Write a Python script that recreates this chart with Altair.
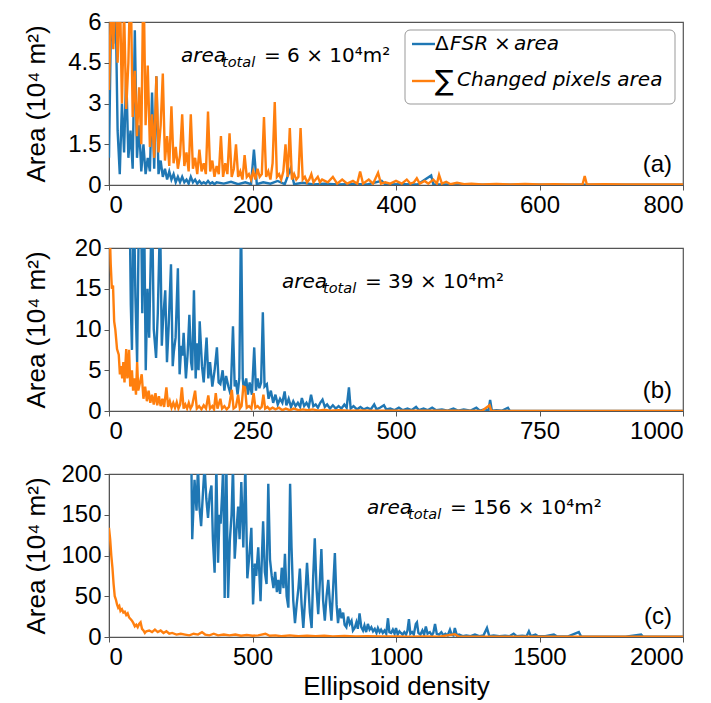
import altair as alt
import pandas as pd

# ---------------- data ----------------
# Panel (a): dense part sampled every 3 density units, then sparse tail
a_orange_dense_x = list(range(0, 300, 3))
a_orange_dense_y = [
    3.5, 7.0, 5.0, 8.0, 4.5, 7.5, 3.0, 6.5, 2.8, 4.5,
    8.0, 2.5, 4.2, 1.8, 3.6, 1.5, 8.0, 2.2, 4.4, 1.4,
    2.6, 1.0, 4.0, 1.2, 2.2, 4.1, 0.9, 1.8, 0.7, 2.9,
    0.8, 1.4, 0.6, 1.1, 2.6, 0.7, 1.2, 0.5, 2.6, 0.6,
    1.0, 0.4, 1.3, 0.5, 0.8, 0.4, 2.7, 0.5, 0.9, 0.3,
    0.7, 0.4, 1.8, 0.3, 0.8, 0.4, 1.9, 0.3, 0.6, 1.5,
    0.3, 0.5, 0.2, 1.1, 0.3, 0.4, 0.2, 0.5, 0.2, 0.6,
    0.3, 0.4, 2.5, 0.3, 0.5, 0.2, 0.8, 3.05, 0.3, 0.4,
    0.2, 0.5, 1.5, 0.3, 2.1, 0.2, 0.4, 0.2, 0.3, 2.1,
    0.2, 0.3, 0.1, 0.2, 0.4, 0.1, 0.2, 0.3, 0.1, 0.2,
]
a_orange_tail = [
    (305, 0.1), (312, 0.3), (318, 0.05), (325, 0.2), (332, 0.05), (340, 0.15),
    (346, 0.05), (350, 0.5), (354, 0.05), (362, 0.2), (368, 0.05), (375, 0.45),
    (379, 0.05), (385, 0.1), (392, 0.05), (400, 0.15), (408, 0.05), (415, 0.2),
    (420, 0.05), (425, 0.1), (429, 0.25), (433, 0.05), (440, 0.15), (445, 0.05),
    (452, 0.2), (457, 0.05), (460, 0.37), (464, 0.05), (470, 0.12), (476, 0.03),
    (485, 0.08), (495, 0.03), (505, 0.05), (520, 0.02), (540, 0.04), (560, 0.02),
    (580, 0.04), (600, 0.02), (620, 0.03), (640, 0.02), (660, 0.02), (663, 0.33),
    (666, 0.02), (690, 0.03), (720, 0.02), (760, 0.02), (800, 0.02),
]
a_blue_dense_x = list(range(0, 153, 3))
a_blue_dense_y = [
    1.0, 6.5, 5.2, 7.0, 2.0, 0.4, 3.0, 1.2, 4.1, 1.0,
    2.0, 0.6, 5.7, 1.0, 2.2, 0.5, 1.5, 0.4, 1.0, 0.5,
    3.4, 0.6, 4.0, 0.4, 0.9, 0.3, 0.6, 0.2, 0.5, 0.2,
    0.4, 0.1, 0.3, 0.1, 0.3, 0.1, 0.2, 0.05, 0.3, 0.1,
    0.2, 0.05, 0.15, 0.05, 0.1, 0.05, 0.15, 0.05, 0.1, 0.03,
    0.1,
]
a_blue_tail = [
    (160, 0.05), (170, 0.12), (180, 0.03), (190, 0.1), (198, 0.03), (202, 1.3),
    (206, 0.03), (215, 0.1), (225, 0.05), (235, 0.15), (245, 0.03), (253, 0.6),
    (258, 0.03), (270, 0.08), (285, 0.02), (300, 0.05), (320, 0.02), (340, 0.04),
    (360, 0.02), (380, 0.15), (385, 0.02), (410, 0.03), (430, 0.02), (449, 0.35),
    (452, 0.02), (480, 0.02), (520, 0.01), (600, 0.01), (700, 0.01), (800, 0.01),
]

# Panel (b)
b_blue = [
    (36, 25), (38, 13), (40, 7.5), (43, 28), (46, 14), (49, 6), (52, 24), (55, 30),
    (58, 12), (61, 26), (64, 5), (67, 15), (70, 9), (73, 20), (75, 26), (78, 10),
    (82, 6.5), (85, 12), (89, 24), (92, 8), (94, 11), (98, 14.8), (101, 6), (104, 10.5),
    (108, 18), (111, 5.5), (113, 7.3), (116, 9), (120, 17.5), (123, 4.5), (126, 8),
    (128, 6.8), (130, 9.6), (134, 4), (137, 7), (140, 11.8), (143, 6), (145, 5),
    (148, 14.8), (151, 4), (153, 8.3), (156, 5), (158, 11), (162, 5.5), (165, 3.5),
    (168, 7), (170, 9), (173, 4), (176, 6), (180, 3), (184, 5), (188, 7.8), (191, 3.5),
    (194, 3.3), (198, 5), (201, 2.5), (204, 4.3), (208, 3), (212, 2), (216, 10.4),
    (219, 3), (221, 3.8), (224, 2), (227, 4), (230, 24), (233, 4), (235, 2.5), (239, 4),
    (242, 2), (245, 3.5), (249, 2), (253, 7.8), (256, 2.5), (259, 4), (262, 2.8),
    (265, 3.5), (268, 12.1), (271, 3), (275, 3.3), (278, 1.5), (282, 2.5), (286, 1),
    (290, 2), (294, 0.8), (298, 1.5), (302, 1), (306, 2.4), (309, 0.7), (313, 1.5),
    (317, 0.5), (321, 1.2), (325, 0.6), (329, 1.0), (333, 0.5), (336, 1.6), (340, 0.6),
    (344, 1), (348, 0.5), (352, 2.0), (356, 0.6), (360, 0.8), (364, 0.4), (368, 1),
    (372, 1.4), (376, 0.5), (380, 0.8), (385, 0.3), (390, 0.7), (395, 0.3), (400, 0.6),
    (405, 0.3), (410, 0.8), (414, 0.4), (418, 2.9), (421, 0.3), (426, 0.6), (432, 0.2),
    (438, 0.5), (444, 0.2), (450, 0.4), (456, 0.2), (462, 0.8), (466, 0.2), (472, 0.4),
    (479, 0.7), (483, 0.2), (490, 0.3), (497, 0.1), (505, 0.4), (512, 0.1), (520, 0.3),
    (527, 0.1), (535, 0.5), (540, 0.1), (548, 0.3), (555, 0.1), (563, 0.4), (570, 0.1),
    (580, 0.2), (590, 0.05), (600, 0.3), (608, 0.05), (618, 0.2), (630, 0.05), (640, 0.4),
    (646, 0.05), (655, 0.2), (661, 0.05), (664, 1.35), (667, 0.05), (675, 0.1), (685, 0.05),
    (695, 0.4), (698, 0.05), (720, 0.02), (800, 0.02), (900, 0.02), (1000, 0.02),
]
b_orange = [
    (0, 25), (3, 18), (5, 15), (7, 15.4), (9, 11), (11, 10), (14, 7.6), (17, 6.9),
    (19, 4.5), (21, 5.5), (23, 4), (25, 6), (27, 3.5), (30, 7.6), (32, 4), (35, 7.5),
    (37, 3), (40, 5), (42, 2.5), (45, 4), (47, 2), (49, 6), (51, 2.5), (54, 3.5),
    (57, 4.5), (60, 1.5), (63, 3), (66, 1.2), (69, 2.5), (72, 1), (75, 2), (78, 0.8),
    (81, 2.2), (84, 0.7), (87, 1.8), (90, 0.6), (93, 1.5), (96, 0.5), (100, 2.9),
    (103, 0.5), (106, 1.2), (109, 0.4), (112, 1.0), (115, 0.4), (118, 1.1), (121, 0.3),
    (124, 0.8), (127, 2.9), (130, 0.3), (133, 0.8), (136, 0.3), (139, 1.0), (142, 0.3),
    (145, 0.7), (150, 2.5), (153, 0.3), (157, 0.6), (161, 0.2), (165, 0.7), (169, 0.3),
    (173, 1.9), (176, 0.3), (180, 0.6), (183, 0.2), (186, 2.2), (189, 0.3), (194, 1.5),
    (197, 0.3), (201, 0.6), (205, 0.2), (209, 0.5), (214, 2.6), (217, 0.3), (221, 0.5),
    (225, 2.0), (228, 0.3), (231, 0.6), (234, 3.0), (237, 2.9), (240, 0.4), (244, 0.6),
    (248, 0.3), (252, 2.2), (255, 0.4), (259, 0.6), (263, 0.3), (266, 0.5), (269, 2.0),
    (272, 0.3), (276, 0.5), (280, 0.2), (285, 0.4), (290, 0.2), (296, 0.4), (302, 0.1),
    (308, 0.3), (315, 0.1), (322, 0.3), (330, 0.1), (338, 0.2), (346, 0.1), (355, 0.2),
    (365, 0.05), (375, 0.15), (385, 0.05), (400, 0.1), (420, 0.05), (440, 0.08),
    (460, 0.03), (500, 0.05), (550, 0.03), (600, 0.03), (650, 0.02), (663, 0.7),
    (666, 0.02), (700, 0.02), (800, 0.02), (900, 0.02), (1000, 0.02),
]

# Panel (c)
c_blue = [
    (287, 215), (290, 120), (298, 193), (305, 155), (310, 210), (315, 160), (321, 136),
    (327, 175), (333, 210), (339, 170), (345, 146), (351, 175), (357, 186), (362, 120),
    (368, 79), (374, 210), (380, 91), (385, 150), (389, 139), (394, 175), (398, 210),
    (403, 48), (409, 210), (415, 48), (421, 118), (427, 150), (432, 210), (438, 96),
    (444, 130), (450, 160), (455, 120), (461, 190), (468, 110), (475, 210), (482, 72),
    (489, 100), (496, 134), (502, 40), (508, 90), (513, 75), (520, 110), (528, 44),
    (532, 90), (537, 142), (543, 80), (549, 65), (555, 188), (561, 95), (567, 75),
    (573, 60), (579, 80), (585, 55), (590, 70), (596, 53), (602, 85), (608, 60),
    (613, 102), (619, 50), (625, 36), (631, 188), (636, 110), (642, 45), (648, 17),
    (654, 40), (660, 60), (665, 84), (671, 40), (677, 11), (683, 45), (690, 91),
    (694, 67), (700, 30), (706, 11), (711, 70), (717, 121), (723, 60), (729, 28),
    (735, 70), (740, 108), (746, 45), (752, 20), (758, 50), (764, 70), (770, 40),
    (775, 20), (781, 60), (787, 103), (793, 40), (798, 17), (804, 35), (810, 23),
    (816, 30), (821, 15), (827, 12), (833, 25), (839, 16), (845, 20), (850, 8),
    (856, 11), (862, 18), (867, 10), (873, 29), (879, 12), (885, 8), (890, 14),
    (896, 6), (902, 16), (908, 9), (914, 12), (920, 7), (926, 10), (932, 5), (937, 11),
    (943, 6), (948, 9), (954, 5), (960, 8), (966, 4), (972, 23), (977, 6), (983, 5),
    (989, 9), (995, 4), (1000, 11), (1006, 3), (1012, 7), (1017, 5), (1023, 3),
    (1029, 6), (1035, 3), (1040, 8), (1045, 22), (1050, 4), (1056, 6), (1062, 3),
    (1069, 16), (1073, 18), (1078, 5), (1085, 3), (1092, 8), (1098, 3), (1104, 13),
    (1110, 4), (1118, 6), (1125, 2), (1130, 5), (1136, 16), (1142, 4), (1150, 3),
    (1158, 6), (1165, 2), (1172, 4), (1180, 2), (1188, 9), (1194, 3), (1200, 2),
    (1205, 11), (1212, 2), (1220, 3), (1232, 1), (1245, 2), (1260, 1), (1275, 3),
    (1290, 1), (1305, 2), (1317, 11), (1325, 1), (1340, 2), (1360, 1), (1380, 1.5),
    (1395, 1), (1410, 4), (1420, 1), (1440, 1.5), (1455, 1), (1463, 7), (1470, 1),
    (1486, 3), (1495, 1), (1520, 1), (1550, 3), (1560, 0.8), (1600, 0.8), (1637, 6),
    (1645, 0.5), (1700, 0.5), (1750, 0.5), (1800, 0.5), (1854, 3), (1860, 0.5),
    (1900, 0.5), (2000, 0.5),
]
c_orange = [
    (0, 134), (4, 120), (8, 100), (12, 85), (16, 65), (20, 50), (24, 46), (28, 40),
    (32, 36), (36, 38), (40, 32), (45, 34), (50, 30), (55, 31), (60, 27), (65, 29),
    (70, 24), (75, 22), (80, 20), (85, 17), (90, 13), (95, 15), (100, 12), (105, 16),
    (110, 18), (115, 10), (120, 8), (125, 5), (130, 7), (140, 8), (150, 6), (160, 9),
    (170, 6), (180, 8), (190, 5), (200, 7), (210, 4), (220, 5), (235, 3), (250, 4),
    (265, 3), (280, 2), (295, 4), (310, 3), (324, 6), (335, 3), (350, 2), (365, 4),
    (380, 2), (400, 3), (420, 2), (440, 3), (460, 1.5), (480, 2.5), (500, 1.5),
    (520, 2), (545, 4), (560, 1.5), (580, 2), (600, 1), (630, 2), (660, 1), (690, 1.5),
    (720, 1), (750, 1.5), (780, 0.8), (820, 1.2), (860, 0.8), (900, 1), (950, 0.6),
    (1000, 0.8), (1050, 0.5), (1100, 0.6), (1150, 0.4), (1205, 3.5), (1220, 0.4),
    (1300, 0.5), (1400, 0.3), (1500, 0.4), (1600, 0.3), (1700, 0.3), (1800, 0.3),
    (1900, 0.3), (2000, 0.3),
]

a_xticks = [0, 200, 400, 600, 800]
a_yticks = [0, 1.5, 3, 4.5, 6]
b_xticks = [0, 250, 500, 750, 1000]
b_yticks = [0, 5, 10, 15, 20]
c_xticks = [0, 500, 1000, 1500, 2000]
c_yticks = [0, 50, 100, 150, 200]

totals = ["= 6 × 10⁴m²", "= 39 × 10⁴m²", "= 156 × 10⁴m²"]
tags = ["(a)", "(b)", "(c)"]

# ---------------- styling ----------------
W, H = 574, 163
BLUE = "#1f77b4"
ORANGE = "#ff7f0e"
AXIS_FONT = "Liberation Sans"
MATH_FONT = "DejaVu Sans"
LW = 2.4


def frame(pairs):
    return pd.DataFrame(pairs, columns=["x", "y"])


def txt(text, x, y, size, font=MATH_FONT, style="normal", align="left", baseline="alphabetic"):
    return alt.Chart(pd.DataFrame({"t": [text]})).mark_text(
        align=align, baseline=baseline, font=font, fontSize=size,
        fontStyle=style, color="black"
    ).encode(x=alt.value(x), y=alt.value(y), text="t:N")


def panel(blue_df, orange_df, xmax, xticks, ymax, yticks, tag, total, ann_x, show_title, legend=False):
    xaxis = alt.Axis(values=xticks, format="d", title="Ellipsoid density" if show_title else None)
    xenc = alt.X("x:Q", scale=alt.Scale(domain=[0, xmax], nice=False, zero=False), axis=xaxis)
    yenc = alt.Y(
        "y:Q", scale=alt.Scale(domain=[0, ymax], nice=False),
        axis=alt.Axis(values=yticks, labelExpr="'' + datum.value",
                      title="Area (10⁴ m²)", titleX=-73, titleY=H / 2,
                      titleAlign="center", titleBaseline="middle", titleAngle=270),
    )
    blue = alt.Chart(blue_df).mark_line(color=BLUE, strokeWidth=LW, clip=True).encode(x=xenc, y=yenc)
    orange = alt.Chart(orange_df).mark_line(color=ORANGE, strokeWidth=LW, clip=True).encode(x=xenc, y=yenc)
    layers = [blue, orange,
              txt(tag, 563, 143, 24, font=AXIS_FONT, align="right", baseline="middle"),
              txt("area", ann_x, 40, 20, style="italic"),
              txt("total", ann_x + 41, 45, 14.5, style="italic"),
              txt(total, ann_x + 83, 40, 20)]
    if legend:
        box = alt.Chart(pd.DataFrame({"t": [0]})).mark_rect(
            fill="white", fillOpacity=0.85, stroke="#999999", strokeWidth=1, cornerRadius=5
        ).encode(x=alt.value(296), x2=alt.value(566), y=alt.value(8), y2=alt.value(82))
        l1 = alt.Chart(pd.DataFrame({"t": [0]})).mark_rule(color=BLUE, strokeWidth=LW).encode(
            x=alt.value(303), x2=alt.value(326), y=alt.value(22))
        l2 = alt.Chart(pd.DataFrame({"t": [0]})).mark_rule(color=ORANGE, strokeWidth=LW).encode(
            x=alt.value(303), x2=alt.value(326), y=alt.value(59))
        layers += [box, l1, l2,
                   txt("Δ", 326, 22, 20, baseline="middle"),
                   txt("FSR", 341, 22, 20, style="italic", baseline="middle"),
                   txt("×", 385, 22, 20, baseline="middle"),
                   txt("area", 405, 22, 20, style="italic", baseline="middle"),
                   txt("∑", 326, 60, 28, baseline="middle"),
                   txt("Changed pixels area", 348, 58, 20, style="italic", baseline="middle")]
    return alt.layer(*layers).properties(width=W, height=H)


a_blue = frame(list(zip(a_blue_dense_x, a_blue_dense_y)) + a_blue_tail)
a_orange = frame(list(zip(a_orange_dense_x, a_orange_dense_y)) + a_orange_tail)

pa = panel(a_blue, a_orange, 800, a_xticks, 6, a_yticks, tags[0], totals[0], 72, False, legend=True)
pb = panel(frame(b_blue), frame(b_orange), 1000, b_xticks, 20, b_yticks, tags[1], totals[1], 173, False)
pc = panel(frame(c_blue), frame(c_orange), 2000, c_xticks, 200, c_yticks, tags[2], totals[2], 258, True)

chart = alt.vconcat(pa, pb, pc, spacing=17).properties(
    padding={"left": 14, "top": 1, "right": 5, "bottom": 5}
).configure_view(
    stroke="#555555", strokeWidth=1.2
).configure_axis(
    grid=False, domainColor="#555555", tickColor="#555555", tickSize=5,
    labelFont=AXIS_FONT, labelFontSize=24, labelColor="black", labelPadding=3,
    titleFont=AXIS_FONT, titleFontSize=26, titleFontWeight="normal", titleColor="black",
    titlePadding=4,
)

chart.save("out.html", embed_options={"renderer": "svg", "actions": False})
